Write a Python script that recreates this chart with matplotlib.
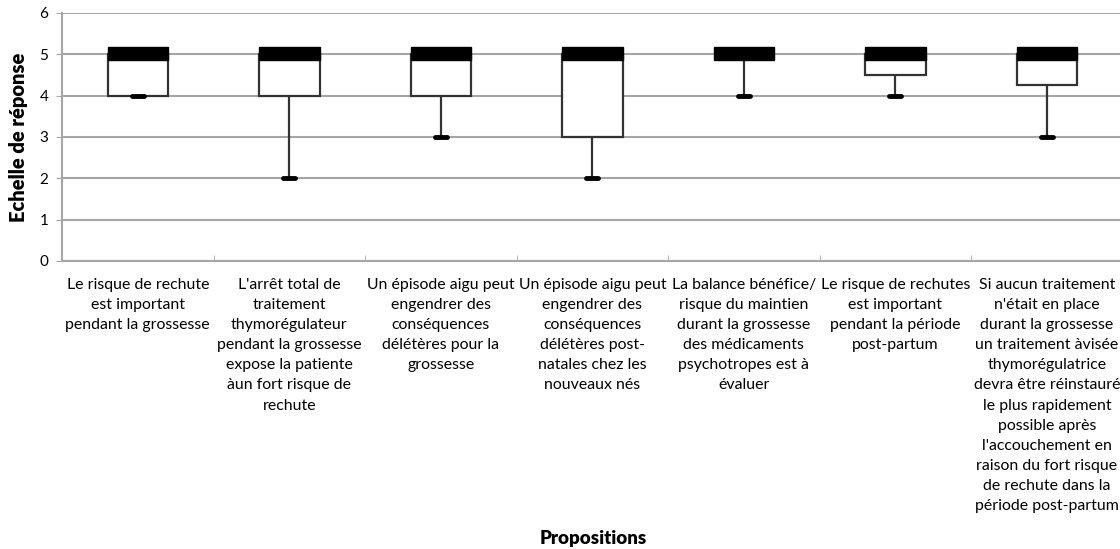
import numpy as np
import matplotlib.pyplot as plt
from matplotlib.patches import Rectangle

plt.rcParams['font.family'] = ['Lato', 'DejaVu Sans']

# Box plot values (Likert scale 0-6)
labels = [
    "Le risque de rechute\nest important\npendant la grossesse",
    "L'arrêt total de\ntraitement\nthymorégulateur\npendant la grossesse\nexpose la patiente\nàun fort risque de\nrechute",
    "Un épisode aigu peut\nengendrer des\nconséquences\ndélétères pour la\ngrossesse",
    "Un épisode aigu peut\nengendrer des\nconséquences\ndélétères post-\nnatales chez les\nnouveaux nés",
    "La balance bénéfice/\nrisque du maintien\ndurant la grossesse\ndes médicaments\npsychotropes est à\névaluer",
    "Le risque de rechutes\nest important\npendant la période\npost-partum",
    "Si aucun traitement\nn'était en place\ndurant la grossesse\nun traitement àvisée\nthymorégulatrice\ndevra être réinstauré\nle plus rapidement\npossible après\nl'accouchement en\nraison du fort risque\nde rechute dans la\npériode post-partum",
]
mins = [4, 2, 3, 2, 4, 4, 3]
q1 = [4, 4, 4, 3, 5, 4.5, 4.25]
medians = [5, 5, 5, 5, 5, 5, 5]

fig = plt.figure(figsize=(11.2, 5.49), dpi=100)
ax = fig.add_axes([0.0554, 0.5246, 0.947, 0.4518])

x = np.arange(len(labels))
box_w = 0.4
cap_w = 0.08
med_lo, med_hi = 0.13, 0.17

for xi, lo, b, m in zip(x, mins, q1, medians):
    # whisker
    ax.plot([xi, xi], [lo, b], color='#333333', lw=1.6, zorder=3)
    ax.plot([xi - cap_w / 2, xi + cap_w / 2], [lo, lo], color='black', lw=3.5,
            solid_capstyle='round', zorder=4)
    # box from q1 to median
    if m > b:
        ax.add_patch(Rectangle((xi - box_w / 2, b), box_w, m - b, facecolor='white',
                               edgecolor='#333333', lw=1.6, zorder=3))
    # median bar
    ax.add_patch(Rectangle((xi - box_w / 2, m - med_lo), box_w, med_lo + med_hi,
                           facecolor='black', edgecolor='black', lw=1, zorder=5))

ax.set_xlim(-0.5, len(labels) - 0.5)
ax.set_ylim(0, 6)
ax.set_yticks(range(0, 7))
ax.yaxis.grid(True, color='#a6a6a6', lw=1.5)
ax.set_axisbelow(True)

ax.set_xticks(x)
ax.set_xticklabels(labels, fontsize=11.4, linespacing=1.56, va='top')
ax.tick_params(axis='x', length=0, pad=12)
ax.set_xticks(np.arange(0.5, len(labels) - 0.5, 1), minor=True)
ax.tick_params(axis='x', which='minor', length=4, color='#a6a6a6', direction='in')
ax.tick_params(axis='y', length=4, color='#a6a6a6', labelsize=11, pad=6)

for s in ['top', 'right']:
    ax.spines[s].set_visible(False)
for s in ['left', 'bottom']:
    ax.spines[s].set_color('#a6a6a6')
    ax.spines[s].set_linewidth(1.5)

ax.set_ylabel('Echelle de réponse', fontsize=14.5, fontweight='heavy', labelpad=8)
fig.text(0.53, 0.01, 'Propositions', fontsize=13.5, fontweight='heavy', ha='center')

fig.savefig('out.png', dpi=100)
